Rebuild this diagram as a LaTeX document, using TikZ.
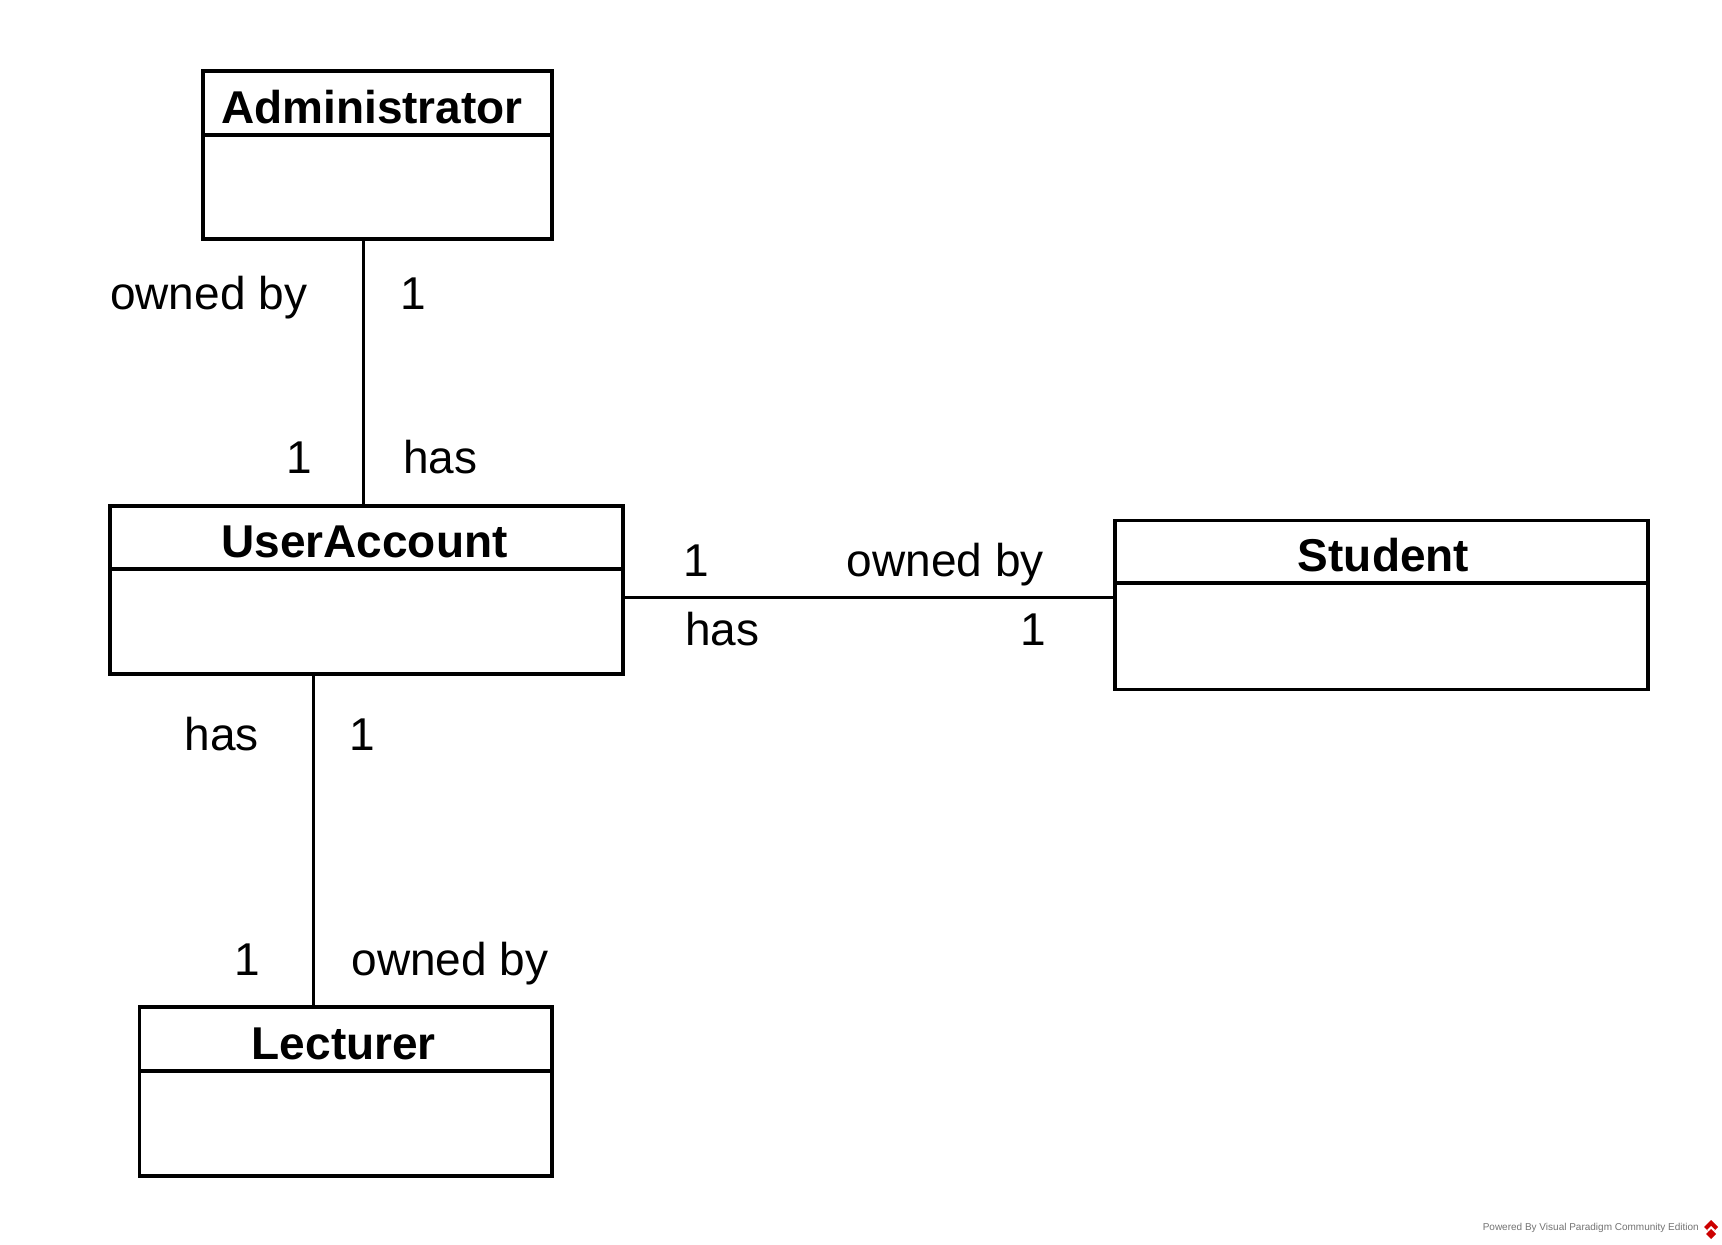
\documentclass[tikz,border=0pt]{standalone}
\usepackage{fontspec}
\setmainfont{Liberation Sans}
\begin{document}
\begin{tikzpicture}[x=1pt,y=-1pt,
  classbox/.style={draw,line width=3.3pt,rectangle,inner sep=0pt,outer sep=0pt},
  title/.style={anchor=base,inner sep=0pt,font=\fontsize{46}{50}\selectfont\bfseries},
  lbl/.style={anchor=base,inner sep=0pt,font=\fontsize{46}{50}\selectfont},
  lblw/.style={lbl,anchor=base west},
  assoc/.style={line width=3pt}]
\useasboundingbox (0,0) rectangle (1722,1245);
\fill[white] (0,0) rectangle (1722,1245);
% classes
\node[classbox,minimum width=349pt,minimum height=168pt] (admin) at (377.5,155) {};
\node[classbox,minimum width=513pt,minimum height=168pt] (ua) at (366.5,590) {};
\node[classbox,minimum width=533pt,minimum height=169pt] (st) at (1381.5,605) {};
\node[classbox,minimum width=412.5pt,minimum height=169pt] (lec) at (345.8,1091.5) {};
% dividers
\draw[line width=3.3pt] (admin.west |- 0,135) -- (admin.east |- 0,135);
\draw[line width=3.3pt] (ua.west |- 0,569) -- (ua.east |- 0,569);
\draw[line width=3.3pt] (st.west |- 0,583) -- (st.east |- 0,583);
\draw[line width=3.3pt] (lec.west |- 0,1071) -- (lec.east |- 0,1071);
% titles
\node[title] (tadmin) at (372,123) {Administrator};
\node[title] (tua) at (364.5,557) {UserAccount};
\node[title] (tst) at (1383.5,571) {Student};
\node[title] (tlec) at (343.8,1059) {Lecturer};
% associations
\draw[assoc] ([xshift=-14pt]admin.south) -- ([xshift=-3pt]ua.north);
\draw[assoc] ([yshift=-7pt]ua.east) -- ([yshift=8pt]st.west);
\draw[assoc] ([xshift=-53.5pt]ua.south) -- ([xshift=-32.8pt]lec.north);
% labels
\node[lblw] (l1) at (110,309) {owned by};
\node[lbl] (l2) at (413,309) {1};
\node[lbl] (l3) at (299,473) {1};
\node[lblw] (l4) at (403,473) {has};
\node[lbl] (l5) at (696,576) {1};
\node[lblw] (l6) at (846.7,576) {owned by};
\node[lblw] (l7) at (685,645.5) {has};
\node[lbl] (l8) at (1033,645.5) {1};
\node[lblw] (l9) at (184.5,750) {has};
\node[lbl] (l10) at (362.4,750) {1};
\node[lbl] (l11) at (247,975) {1};
\node[lblw] (l12) at (351.4,975) {owned by};
% watermark
\node[anchor=east,inner sep=0pt,font=\fontsize{10}{12}\selectfont,text=black!55] (wm) at (1699,1228) {Powered By Visual Paradigm Community Edition};
\fill[red!80!black] (1711,1220) -- (1718,1227) -- (1711,1234) -- (1704,1227) -- cycle;
\fill[white] (1711,1226) -- (1715,1230) -- (1711,1234) -- (1707,1230) -- cycle;
\fill[red!80!black] (1711,1229) -- (1716,1234) -- (1711,1239) -- (1706,1234) -- cycle;
\end{tikzpicture}
\end{document}
